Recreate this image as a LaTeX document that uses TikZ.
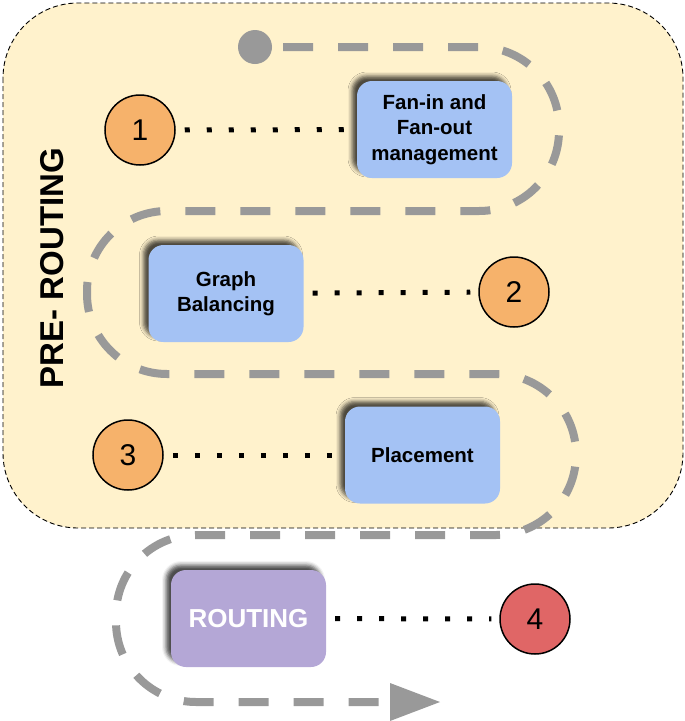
\documentclass[tikz,border=0pt]{standalone}
\usepackage{fontspec}
\setmainfont{Liberation Sans}
\usetikzlibrary{arrows.meta,shadows.blur}
\definecolor{bgyellow}{HTML}{FFF2CC}
\definecolor{boxblue}{HTML}{A4C2F4}
\definecolor{boxpurple}{HTML}{B4A7D6}
\definecolor{numorange}{HTML}{F6B26B}
\definecolor{numred}{HTML}{E06666}
\definecolor{pathgray}{HTML}{999999}
\tikzset{
  stepbox/.style={rounded corners=15pt, fill=boxblue, minimum width=155pt, minimum height=97pt,
    align=center, inner sep=2pt, font=\bfseries\fontsize{20.5}{25.5}\selectfont,
    blur shadow={shadow xshift=-5pt, shadow yshift=5pt, shadow blur radius=4pt, shadow opacity=70}},
  numcirc/.style={circle, draw=black, line width=1.5pt, fill=numorange, minimum size=70pt,
    inner sep=0pt, font=\fontsize{30}{30}\selectfont},
  dotline/.style={line width=5pt, dash pattern=on 5pt off 17pt, shorten <=9pt, shorten >=8pt},
  flow/.style={draw=pathgray, line width=8pt, dash pattern=on 30pt off 25pt, rounded corners=80pt}
}
\begin{document}
\begin{tikzpicture}[x=1pt,y=-1pt]
\useasboundingbox (0,0) rectangle (685,721);
% background
\draw[fill=bgyellow, rounded corners=75pt, dash pattern=on 5pt off 3pt, line width=0.9pt]
  (3,3) rectangle (683,528);
\node[rotate=90, font=\bfseries\fontsize{33}{33}\selectfont] (pre) at (52,268) {PRE- ROUTING};
% flow path
\fill[pathgray] (255,47) circle (17);
\coordinate (s) at (283,47);
\coordinate (e) at (440,702);
\draw[flow, -{Triangle[length=50pt,width=38pt,line width=0pt]}]
  (s) -- (559,47) -- (559,211) -- (87,211) -- (87,374) -- (576,374) -- (576,535)
  -- (116,535) -- (116,702) -- (e);
% nodes
\node[stepbox] (b1) at (434.5,129.5) {Fan-in and\\Fan-out\\management};
\node[stepbox] (b2) at (226,293.5) {Graph\\Balancing};
\node[stepbox] (b3) at (422.5,455) {Placement};
\node[stepbox, fill=boxpurple, text=white, font=\bfseries\fontsize{26}{26}\selectfont] (b4) at (248.5,618.5) {ROUTING};
\node[numcirc] (c1) at (140,130) {1};
\node[numcirc] (c2) at (514,292) {2};
\node[numcirc] (c3) at (128,455) {3};
\node[numcirc, fill=numred] (c4) at (535,619) {4};
% connectors
\draw[dotline] (c1) -- (b1);
\draw[dotline] (b2) -- (c2);
\draw[dotline] (c3) -- (b3);
\draw[dotline] (b4) -- (c4);
\end{tikzpicture}
\end{document}
